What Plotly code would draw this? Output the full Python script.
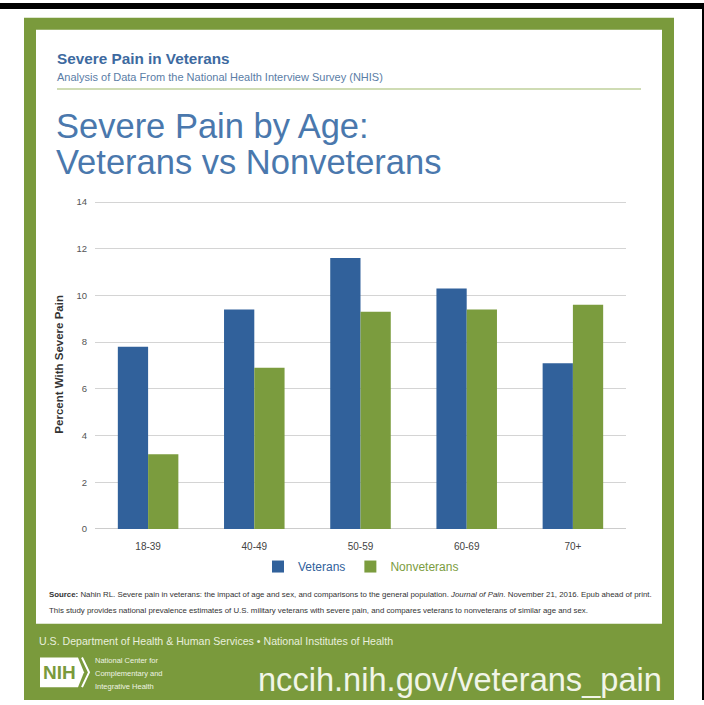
import plotly.graph_objects as go

W, H = 704, 705

categories = ["18-39", "40-49", "50-59", "60-69", "70+"]
veterans = [7.8, 9.4, 11.6, 10.3, 7.1]
nonveterans = [3.2, 6.9, 9.3, 9.4, 9.6]
y_ticks = [0, 2, 4, 6, 8, 10, 12, 14]

BLUE = "#31619b"
GREEN_BAR = "#7b9c3e"
PANEL = "#7a9a3c"
TITLE_BLUE = "#4a78ad"
FONT = "Liberation Sans, Arial, sans-serif"

def px(x):
    return x / W

def py(y):
    return 1 - y / H

fig = go.Figure()
fig.add_trace(go.Bar(x=categories, y=veterans,
                     name="<span style='color:%s'>Veterans</span>" % BLUE,
                     marker=dict(color=BLUE, line=dict(width=0))))
fig.add_trace(go.Bar(x=categories, y=nonveterans,
                     name="<span style='color:%s'>Nonveterans</span>" % GREEN_BAR,
                     marker=dict(color=GREEN_BAR, line=dict(width=0))))

shapes = [
    dict(type="rect", xref="paper", yref="paper", x0=px(24), x1=px(674), y0=py(705), y1=py(15),
         fillcolor=PANEL, line=dict(width=0), layer="below"),
    dict(type="rect", xref="paper", yref="paper", x0=px(36), x1=px(662), y0=py(628), y1=py(27),
         fillcolor="white", line=dict(width=0), layer="below"),
    dict(type="rect", xref="paper", yref="paper", x0=0, x1=1, y0=py(6), y1=1,
         fillcolor="black", line=dict(width=0), layer="below"),
    dict(type="rect", xref="paper", yref="paper", x0=px(702), x1=1, y0=0, y1=1,
         fillcolor="black", line=dict(width=0), layer="below"),
    dict(type="line", xref="paper", yref="paper", x0=px(57), x1=px(641), y0=py(87), y1=py(87),
         line=dict(color="#cfdcb4", width=2), layer="below"),
    dict(type="path", xref="paper", yref="paper",
         path="M %f %f L %f %f L %f %f L %f %f L %f %f Z" % (
             px(40), py(662), px(78), py(662), px(84), py(677), px(78), py(692), px(40), py(692)),
         fillcolor="white", line=dict(width=0), layer="above"),
    dict(type="path", xref="paper", yref="paper",
         path="M %f %f L %f %f L %f %f" % (px(82), py(662), px(89), py(677), px(82), py(692)),
         fillcolor="rgba(0,0,0,0)", line=dict(color="white", width=2), layer="above"),
]

ann = []
def text(x, y, s, size, color, anchor="left", family=FONT, yanchor="middle"):
    ann.append(dict(x=px(x), y=py(y), xref="paper", yref="paper", text=s, showarrow=False,
                    xanchor=anchor, yanchor=yanchor, font=dict(size=size, color=color, family=family)))

text(55, 56, "<b>Severe Pain in Veterans</b>", 15.3, "#3d6aa0")
text(55, 75, "Analysis of Data From the National Health Interview Survey (NHIS)", 11, "#5a7da6")
text(54, 124, "Severe Pain by Age:", 34.5, TITLE_BLUE)
text(54, 161, "Veterans vs Nonveterans", 34.5, TITLE_BLUE)
text(47, 598, "<b>Source:</b> Nahin RL. Severe pain in veterans: the impact of age and sex, and comparisons to the general population. <i>Journal of Pain</i>. November 21, 2016. Epub ahead of print.",
     7.85, "#333333")
text(47, 614, "This study provides national prevalence estimates of U.S. military veterans with severe pain, and compares veterans to nonveterans of similar age and sex.",
     7.85, "#333333")
text(37, 645, "U.S. Department of Health &amp; Human Services • National Institutes of Health", 10.6, "#e9efdc")
text(59, 677, "<b>NIH</b>", 19, PANEL, anchor="center")
text(93, 665, "National Center for", 7.5, "#eef3e3")
text(93, 678, "Complementary and", 7.5, "#eef3e3")
text(93, 691, "Integrative Health", 7.5, "#eef3e3")
text(256, 684, "nccih.nih.gov/veterans_pain", 32.6, "#f1f5e8")

fig.update_layout(
    width=W, height=H,
    margin=dict(l=0, r=0, t=0, b=0),
    paper_bgcolor="white",
    plot_bgcolor="rgba(0,0,0,0)",
    barmode="group",
    bargap=0.43,
    bargroupgap=0,
    shapes=shapes,
    annotations=ann,
    showlegend=True,
    legend=dict(orientation="h", x=px(361), y=py(570), xanchor="center", yanchor="middle",
                font=dict(size=12, family=FONT),
                bgcolor="rgba(0,0,0,0)", itemwidth=30, tracegroupgap=0),
    xaxis=dict(domain=[px(95), px(626)], showgrid=False, showline=False, zeroline=False,
               tickfont=dict(size=10, color="#444444", family=FONT),
               ticks="", ticklen=0, ticklabelstandoff=10),
    yaxis=dict(domain=[py(532), py(199)], range=[0, 14.1], tickvals=y_ticks,
               showgrid=True, gridcolor="#d4d4d4", gridwidth=1,
               zeroline=True, zerolinecolor="#cccccc", zerolinewidth=1,
               showline=False, ticks="", ticklabelstandoff=7,
               tickfont=dict(size=9.5, color="#555555", family=FONT),
               title=dict(text="<b>Percent With Severe Pain</b>", standoff=10,
                          font=dict(size=11.5, color="#333333", family=FONT))),
    font=dict(family=FONT),
)

fig.write_html("out.html")
